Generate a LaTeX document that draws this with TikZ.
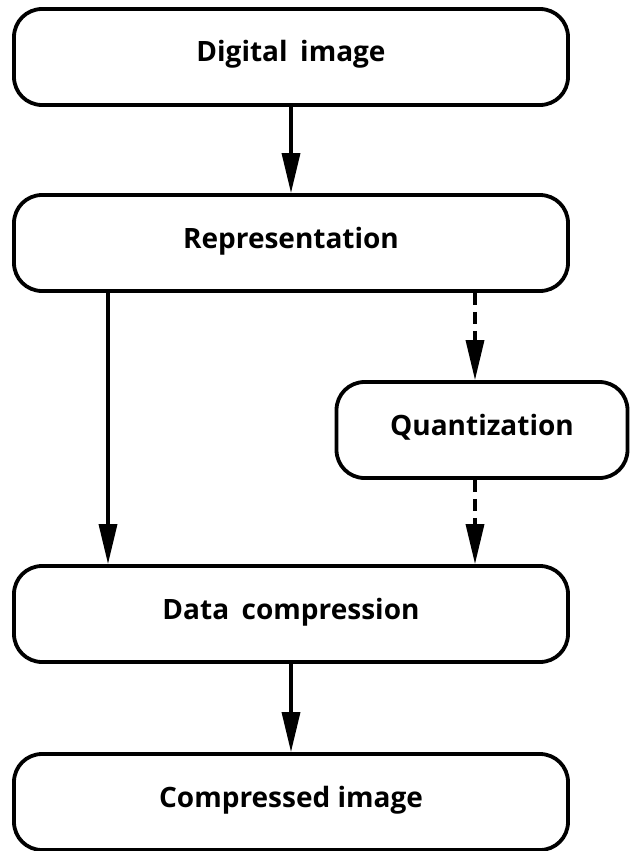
\documentclass[tikz,border=0pt]{standalone}
\usepackage{fontspec}
\setmainfont{Open Sans}
\usetikzlibrary{arrows.meta}

\tikzset{
  stage/.style={draw, line width=3.8pt, rounded corners=28pt, minimum height=96pt,
    inner sep=0pt, font=\bfseries\fontsize{28}{32}\selectfont,
    text height=24pt, text depth=14pt},
  wide/.style={stage, minimum width=554pt},
  flow/.style={line width=3.5pt, -{Triangle[length=40pt,width=18pt]}},
  maybe/.style={flow, dash pattern=on 12pt off 7pt}
}

\begin{document}
\begin{tikzpicture}[x=1pt, y=1pt]
	\useasboundingbox (0, 0) rectangle (630, -851);
	\node[wide] (dig) at (291, -57) {Digital\hspace{0.45em}image};
	\node[wide] (rep) at (291, -243) {Representation};
	\node[stage, minimum width=291pt] (quant) at (482, -430) {Quantization};
	\node[wide] (comp) at (291, -614) {Data\hspace{0.45em}compression};
	\node[wide] (out) at (291, -802) {Compressed image};
	\coordinate (left) at (108, 0);
	\coordinate (dash) at (475, 0);
	\draw[flow] (dig) -- (rep);
	\draw[flow] (rep.south -| left) -- (comp.north -| left);
	\draw[maybe] (rep.south -| dash) -- (quant.north -| dash);
	\draw[maybe] (quant.south -| dash) -- (comp.north -| dash);
	\draw[flow] (comp) -- (out);
\end{tikzpicture}
\end{document}
